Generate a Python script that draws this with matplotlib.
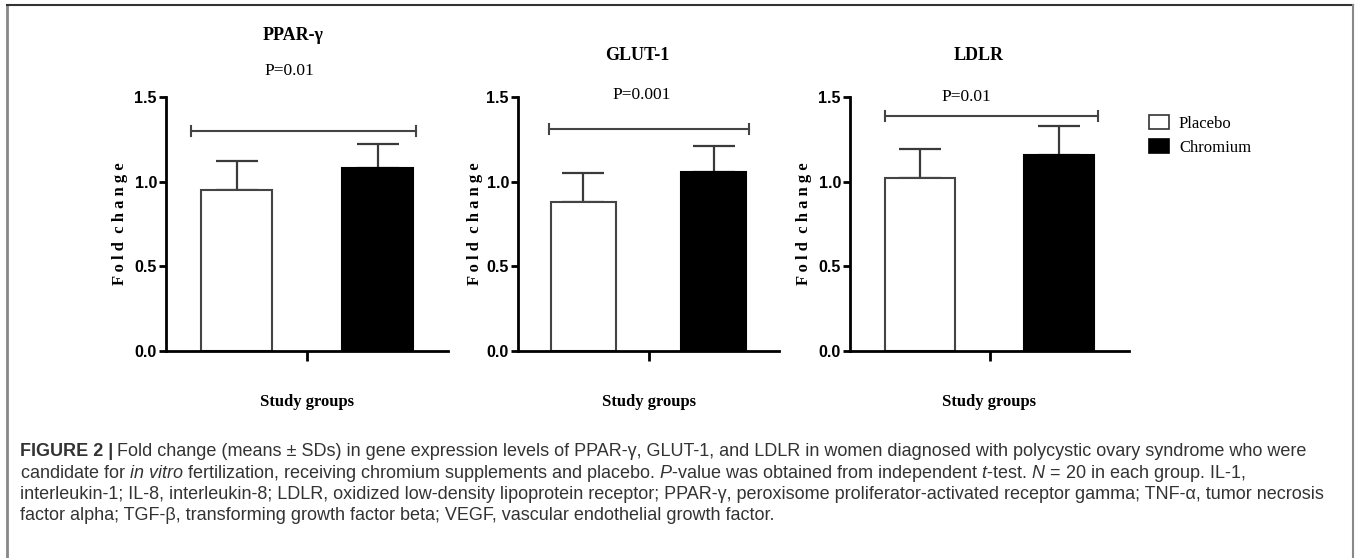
"""
Fold change of PPAR-gamma, GLUT-1 and LDLR (placebo vs chromium), three bar
panels with one-sided SD error bars, a significance bracket and a caption.
"""
import matplotlib
matplotlib.use("Agg")
import matplotlib.pyplot as plt
from matplotlib.lines import Line2D
from matplotlib.patches import Patch

# --- data -----------------------------------------------------------------
genes = ["PPAR-γ", "GLUT-1", "LDLR"]
p_values = ["P=0.01", "P=0.001", "P=0.01"]
groups = ["Placebo", "Chromium"]
placebo_mean = [0.95, 0.88, 1.02]
placebo_sd = [0.17, 0.17, 0.17]
chromium_mean = [1.08, 1.06, 1.16]
chromium_sd = [0.14, 0.15, 0.17]
bracket_y = [1.30, 1.31, 1.39]
y_ticks = [0.0, 0.5, 1.0, 1.5]

W, H = 1360, 558
plt.rcParams["mathtext.fontset"] = "custom"
plt.rcParams["mathtext.rm"] = "Liberation Sans"
plt.rcParams["mathtext.it"] = "Liberation Sans:italic"
plt.rcParams["mathtext.bf"] = "Liberation Sans:bold"

fig = plt.figure(figsize=(W / 100, H / 100), dpi=100)

# axes boxes in pixels: (left, right); y from 97 (1.5) to 351 (0.0)
ax_px = [(166, 448), (518, 779), (850, 1129)]
title_px = [(293, 35), (637, 55), (979, 55)]
pval_px = [(289, 71), (642, 95), (966, 97)]
bracket_x = [(-0.82, 0.77), (-0.76, 0.77), (-0.75, 0.78)]
serif = "Liberation Serif"

for i, (x0, x1) in enumerate(ax_px):
    ax = fig.add_axes([x0 / W, 1 - 351 / H, (x1 - x0) / W, 254 / H])
    xs = [-0.5, 0.5]
    means = [placebo_mean[i], chromium_mean[i]]
    sds = [placebo_sd[i], chromium_sd[i]]
    # error bars go under the bars, so only the upper half shows
    ax.errorbar(xs, means, yerr=[[0, 0], sds], fmt="none", ecolor="#3a3a3a",
                elinewidth=1.6, capsize=15, capthick=1.6, zorder=1)
    ax.bar(xs, means, width=0.5, color=["white", "black"],
           edgecolor=["#444444", "black"], linewidth=1.5, zorder=2)

    # significance bracket
    bx0, bx1 = bracket_x[i]
    by = bracket_y[i]
    ax.plot([bx0, bx1], [by, by], color="#444444", lw=1.5)
    ax.plot([bx0, bx0], [by - 0.03, by + 0.03], color="#444444", lw=1.5)
    ax.plot([bx1, bx1], [by - 0.03, by + 0.03], color="#444444", lw=1.5)

    ax.set_xlim(-1, 1)
    ax.set_ylim(0, 1.5)
    ax.set_yticks(y_ticks)
    ax.set_yticklabels([f"{t:.1f}" for t in y_ticks], fontfamily="Liberation Sans",
                       fontweight="bold", fontsize=11.5)
    ax.set_xticks([0])
    ax.set_xticklabels([""])
    ax.tick_params(axis="both", direction="out", length=5, width=2, pad=1.5)
    ax.tick_params(axis="x", length=7)
    for s in ["top", "right"]:
        ax.spines[s].set_visible(False)
    for s in ["left", "bottom"]:
        ax.spines[s].set_linewidth(2)
    ax.patch.set_alpha(0)

    ax.set_ylabel("F o l d  c h a n g e", fontfamily=serif, fontweight="bold",
                  fontsize=12)
    ax.yaxis.set_label_coords(-0.135, 0.5)

    cx = (x0 + x1) / 2
    fig.text(cx / W, 1 - 402 / H, "Study groups", ha="center", va="center",
             fontfamily=serif, fontweight="bold", fontsize=12)
    fig.text(title_px[i][0] / W, 1 - title_px[i][1] / H, genes[i], ha="center",
             va="center", fontfamily=serif, fontweight="bold", fontsize=13)
    fig.text(pval_px[i][0] / W, 1 - pval_px[i][1] / H, p_values[i], ha="center",
             va="center", fontfamily=serif, fontsize=12.5)

# legend
handles = [Patch(facecolor="white", edgecolor="#333333", linewidth=1.2),
           Patch(facecolor="black", edgecolor="black", linewidth=1.2)]
fig.legend(handles, groups, loc="upper left",
           bbox_to_anchor=(1134 / W, 1 - 100 / H), frameon=False,
           prop={"family": serif, "size": 12}, handlelength=1.2,
           handleheight=0.9, handletextpad=0.6, labelspacing=0.45)

# outer frame (left, top, right)
fig.add_artist(Line2D([7 / W, 7 / W], [0, 1 - 5 / H], color="#888888", lw=2))
fig.add_artist(Line2D([7 / W, 1353 / W], [1 - 5 / H, 1 - 5 / H], color="#333333", lw=1.5))
fig.add_artist(Line2D([1353 / W, 1353 / W], [0, 1 - 5 / H], color="#888888", lw=1.5))

# caption
cap_kw = dict(fontfamily="Liberation Sans", fontsize=13, color="#333333")
t0 = fig.text(20 / W, 1 - 452 / H, "FIGURE 2 |", va="center",
              fontweight="bold", **cap_kw)
fig.add_artist(plt.Annotation(
    "Fold change (means ± SDs) in gene expression levels of PPAR-γ, GLUT-1, "
    "and LDLR in women diagnosed with polycystic ovary syndrome who were",
    xy=(1, 0), xycoords=t0, xytext=(3, 0), textcoords="offset points",
    va="bottom", **cap_kw))
lines = [
    r"candidate for $\mathit{in\ vitro}$ fertilization, receiving chromium supplements "
    r"and placebo. $\mathit{P}$-value was obtained from independent $\mathit{t}$-test. "
    r"$\mathit{N}$ = 20 in each group. IL-1,",
    "interleukin-1; IL-8, interleukin-8; LDLR, oxidized low-density lipoprotein "
    "receptor; PPAR-γ, peroxisome proliferator-activated receptor gamma; TNF-α, "
    "tumor necrosis",
    "factor alpha; TGF-β, transforming growth factor beta; VEGF, vascular "
    "endothelial growth factor.",
]
for k, line in enumerate(lines):
    fig.text(20 / W, 1 - (473 + 21.5 * k) / H, line, va="center", **cap_kw)

fig.savefig("out.png", dpi=100)
